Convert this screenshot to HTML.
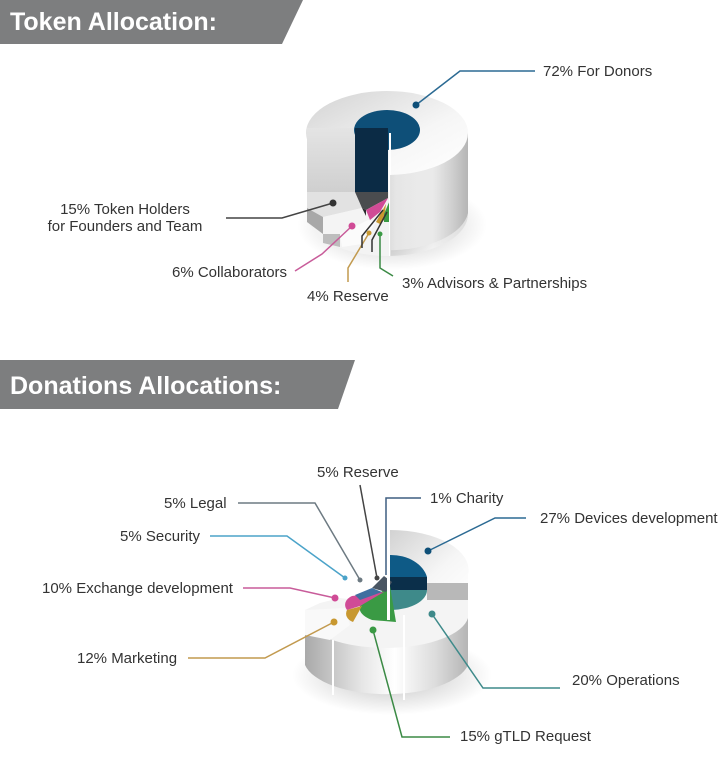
<!DOCTYPE html>
<html><head><meta charset="utf-8"><style>
html,body{margin:0;padding:0;background:#fff;}
svg{display:block}
text{font-family:"Liberation Sans",sans-serif;font-size:15px;fill:#333;}
.h{font-size:25px;font-weight:bold;fill:#fff;}
</style></head><body>
<svg width="720" height="758" viewBox="0 0 720 758" xmlns="http://www.w3.org/2000/svg">
<defs>
<linearGradient id="side" x1="0" x2="1" y1="0" y2="0">
<stop offset="0" stop-color="#a9a9a9"/><stop offset="0.35" stop-color="#e6e6e6"/><stop offset="0.55" stop-color="#ffffff"/><stop offset="0.8" stop-color="#dcdcdc"/><stop offset="1" stop-color="#b5b5b5"/>
</linearGradient>
<linearGradient id="top" x1="0" x2="1" y1="0" y2="1">
<stop offset="0" stop-color="#d2d2d2"/><stop offset="0.6" stop-color="#f6f6f6"/><stop offset="1" stop-color="#ffffff"/>
</linearGradient>
<linearGradient id="face" x1="0" x2="0" y1="0" y2="1">
<stop offset="0" stop-color="#e4e4e4"/><stop offset="1" stop-color="#cfcfcf"/>
</linearGradient>
<radialGradient id="sh" cx="0.5" cy="0.5" r="0.5"><stop offset="0" stop-color="#000" stop-opacity="0.25"/><stop offset="1" stop-color="#000" stop-opacity="0"/></radialGradient>
</defs>

<polygon points="0,0 303,0 282,44 0,44" fill="#7d7e7f"/>
<text x="10" y="30" class="h">Token Allocation:</text>
<polygon points="0,360 355,360 338,409 0,409" fill="#7d7e7f"/>
<text x="10" y="394" class="h">Donations Allocations:</text>

<ellipse cx="392" cy="225" rx="95" ry="45" fill="url(#sh)"/>
<path d="M307,133 L307,213 A81,42 0 0 0 468,213 L468,133 Z" fill="url(#side)"/>
<ellipse cx="387" cy="133" rx="81" ry="42" fill="url(#top)"/>
<path d="M307,128 L355,128 L355,193 L307,192 Z" fill="url(#face)"/>
<ellipse cx="387" cy="130" rx="33" ry="20" fill="#0e4f78"/>
<rect x="355" y="128" width="33" height="66" fill="#0b2b45"/>
<path d="M307,192 L390,192 L390,256 A81,42 0 0 1 307,213 Z" fill="#f3f3f3"/>
<path d="M307,192 L355,192 L362,208 L323,217 L307,208 Z" fill="#e2e2e2"/>
<path d="M307,208 L323,217 L323,234 L307,222 Z" fill="#a8a8a8"/>
<path d="M355,192 L388,192 L388,198 L366,210 L362,208 Z" fill="#4a4c4f"/>
<path d="M362,208 L366,210 L366,216 L362,214 Z" fill="#2a2b2d"/>
<path d="M323,217 L362,208 L368,220 L340,234 L323,234 Z" fill="#f4f4f4"/>
<path d="M323,234 L340,234 L340,247 L323,243 Z" fill="#bdbdbd"/>
<path d="M366,210 L388,198 L380,212 L370,220 Z" fill="#d04b96"/>
<path d="M340,234 L368,220 L376,222 L362,244 L342,247 Z" fill="#fbfbfb"/>
<path d="M376,222 L386,204 L384,220 L380,224 Z" fill="#c89830"/>
<path d="M384,214 L390,200 L390,222 L384,222 Z" fill="#3a9a44"/>
<rect x="389" y="133" width="2" height="123" fill="#fff"/>
<path d="M390,175 L390,256 A81,42 0 0 0 468,213 L468,133 A81,42 0 0 1 390,175 Z" fill="url(#side)" opacity="0.35"/>

<g fill="none" stroke-width="1.5">
<polyline points="535,71 460,71 416,105" stroke="#2b6a93"/>
<polyline points="226,218 282,218 333,203" stroke="#444"/>
<polyline points="295,271 322,254 352,226" stroke="#c85c9a"/>
<polyline points="348,282 348,268 369,233" stroke="#c29a4f"/>
<polyline points="393,276 380,268 380,234" stroke="#3b8a45"/>
<polyline points="362,248 362,236 383,210" stroke="#333"/>
<polyline points="372,252 372,240 387,212" stroke="#333"/>
</g>
<circle cx="416" cy="105" r="3.5" fill="#0e4f78"/>
<circle cx="333" cy="203" r="3.5" fill="#333"/>
<circle cx="352" cy="226" r="3.5" fill="#d04b96"/>
<circle cx="369" cy="233" r="2.5" fill="#c89830"/>
<circle cx="380" cy="234" r="2.5" fill="#3a9a44"/>
<text x="543" y="76">72% For Donors</text>
<text x="125" y="214" text-anchor="middle">15% Token Holders</text>
<text x="125" y="231" text-anchor="middle">for Founders and Team</text>
<text x="172" y="277">6% Collaborators</text>
<text x="307" y="301">4% Reserve</text>
<text x="402" y="288">3% Advisors &amp; Partnerships</text>

<ellipse cx="392" cy="675" rx="100" ry="40" fill="url(#sh)"/>
<path d="M305,620 L305,665 A83,36 0 0 0 468,665 L468,600 L390,600 Z" fill="url(#side)"/>
<path d="M390,530 A78,40 0 0 1 468,575 L468,600 L390,600 Z" fill="url(#top)"/>
<path d="M427,583 L468,583 L468,600 L427,600 Z" fill="#b8b8b8"/>
<path d="M305,622 A83,34 0 0 0 468,618 L468,600 L400,600 L390,605 L340,598 L320,603 L305,610 Z" fill="#f4f4f4"/>
<path d="M305,610 L345,608 L350,625 L330,640 L305,635 Z" fill="#f9f9f9"/>
<rect x="332" y="640" width="2" height="55" fill="#fff"/>
<rect x="403" y="615" width="2" height="85" fill="#fff"/>
<path d="M390,555 A37,28 0 0 1 427,577 L390,577 Z" fill="#0e5a86"/>
<rect x="390" y="577" width="37" height="13" fill="#0b2f4a"/>
<path d="M390,590 L427,590 A37,20 0 0 1 392,610 Z" fill="#3e8a8a"/>
<path d="M390,586 L396,622 L372,620 A32,15 0 0 1 360,606 Z" fill="#3a9a44"/>
<path d="M360,606 L384,592 L352,596 A13,10 0 0 0 347,610 Z" fill="#d04b96"/>
<path d="M347,610 L362,606 L353,622 A11,9 0 0 1 347,610 Z" fill="#c89830"/>
<path d="M372,588 L384,576 L392,582 L386,592 Z" fill="#4a5663"/>
<path d="M355,595 L372,588 L382,592 L360,600 Z" fill="#3f6fa0"/>
<rect x="387" y="530" width="3" height="90" fill="#fff"/>

<g fill="none" stroke-width="1.5">
<polyline points="360,485 377,578" stroke="#444"/>
<polyline points="238,503 315,503 360,580" stroke="#6d7a82"/>
<polyline points="421,498 386,498 386,575" stroke="#3f5f80"/>
<polyline points="210,536 287,536 345,578" stroke="#4ba3c9"/>
<polyline points="243,588 290,588 335,598" stroke="#c85c9a"/>
<polyline points="526,518 495,518 428,551" stroke="#2b6a93"/>
<polyline points="188,658 265,658 334,622" stroke="#c29a4f"/>
<polyline points="560,688 483,688 432,614" stroke="#3e8a8a"/>
<polyline points="450,737 402,737 373,630" stroke="#3b8a45"/>
</g>
<circle cx="377" cy="578" r="2.5" fill="#444"/>
<circle cx="360" cy="580" r="2.5" fill="#6d7a82"/>
<circle cx="345" cy="578" r="2.5" fill="#4ba3c9"/>
<circle cx="335" cy="598" r="3.5" fill="#d04b96"/>
<circle cx="428" cy="551" r="3.5" fill="#0e4f78"/>
<circle cx="334" cy="622" r="3.5" fill="#c89830"/>
<circle cx="432" cy="614" r="3.5" fill="#3e8a8a"/>
<circle cx="373" cy="630" r="3.5" fill="#3a9a44"/>
<text x="317" y="477">5% Reserve</text>
<text x="164" y="508">5% Legal</text>
<text x="430" y="503">1% Charity</text>
<text x="120" y="541">5% Security</text>
<text x="42" y="593">10% Exchange development</text>
<text x="540" y="523">27% Devices development</text>
<text x="77" y="663">12% Marketing</text>
<text x="572" y="685">20% Operations</text>
<text x="460" y="741">15% gTLD Request</text>
</svg>
</body></html>
